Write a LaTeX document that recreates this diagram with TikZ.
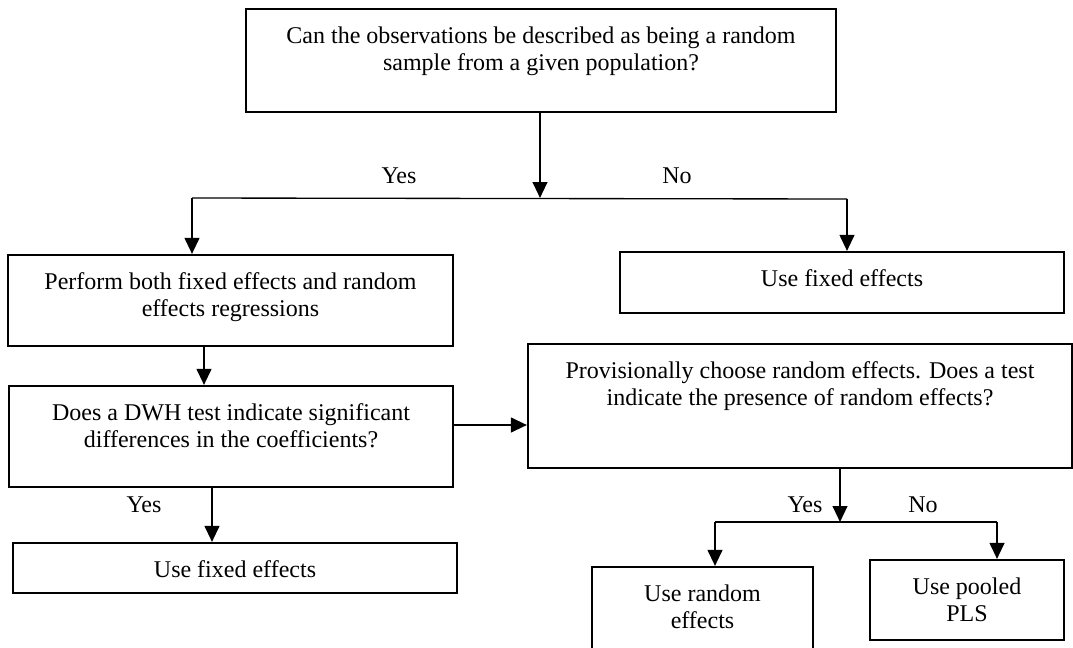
\documentclass[tikz,border=0pt]{standalone}
\usepackage{fontspec}
\setmainfont{Liberation Serif}
\usetikzlibrary{arrows.meta}
\newdimen\pxu
\pxu=0.75pt
\newcommand\boxtext[3]{\parbox[c][#1\pxu][t]{#2\pxu}{\centering\vspace*{17.5\pxu}#3\par}}
\tikzset{
  box/.style={draw, line width=1.6pt, inner sep=0pt, font=\fontsize{18pt}{20.3pt}\selectfont},
  lbl/.style={inner sep=0pt, font=\fontsize{18pt}{20.3pt}\selectfont},
  arr/.style={line width=1.6pt, -{Triangle[length=12pt,width=11pt]}},
  branch/.style={line width=1pt}
}
\begin{document}
\begin{tikzpicture}[x=0.75pt,y=-0.75pt]
\clip (0,0) rectangle (1073,647);
\fill[white] (0,0) rectangle (1073,647);
% boxes
\node[box] (q1) at (541,60.5) {\boxtext{103}{590}{Can the observations be described as being a random\\sample from a given population?}};
\node[box] (perf) at (230.5,300.5) {\boxtext{91}{445}{Perform both fixed effects and random\\effects regressions}};
\node[box] (fe1) at (842,282.5) {\boxtext{61}{444}{Use fixed effects}};
\node[box] (dwh) at (231,436.5) {\boxtext{101}{444}{Does a DWH test indicate significant\\differences in the coefficients?}};
\node[box] (prov) at (800,406) {\boxtext{124}{544}{Provisionally choose random effects. Does a test\\indicate the presence of random effects?}};
\node[box] (fe2) at (235,568) {\boxtext{50}{444}{Use fixed effects}};
\node[box] (re) at (702.5,617) {\boxtext{100}{221}{Use random\\effects}};
\node[box] (pls) at (967,600) {\boxtext{80}{194}{Use pooled\\PLS}};
% coordinates
\coordinate (s1) at (540,198);
\coordinate (s1l) at (192,198);
\coordinate (s1r) at (847,199);
\coordinate (a3) at (204,0);
\coordinate (a4) at (0,425);
\coordinate (a5) at (212,0);
\coordinate (s2) at (840,522);
\coordinate (s2l) at (715,522);
\coordinate (s2r) at (997,522);
% connectors
\draw[arr] (q1.south -| s1) -- (s1);
\draw[branch] (s1l) -- (s1r);
\draw[arr] (s1l) -- (s1l |- perf.north);
\draw[arr] (s1r) -- (s1r |- fe1.north);
\draw[arr] (perf.south -| a3) -- (dwh.north -| a3);
\draw[arr] (dwh.east |- a4) -- (prov.west |- a4);
\draw[arr] (dwh.south -| a5) -- (fe2.north -| a5);
\draw[arr] (prov.south -| s2) -- (s2);
\draw[branch] (s2l) -- (s2r);
\draw[arr] (s2l) -- (s2l |- re.north);
\draw[arr] (s2r) -- (s2r |- pls.north);
% labels
\node[lbl] (y1) at (399,176) {Yes};
\node[lbl] (n1) at (677,176) {No};
\node[lbl] (y2) at (144,505) {Yes};
\node[lbl] (y3) at (805,505) {Yes};
\node[lbl] (n3) at (923,505) {No};
\end{tikzpicture}
\end{document}
